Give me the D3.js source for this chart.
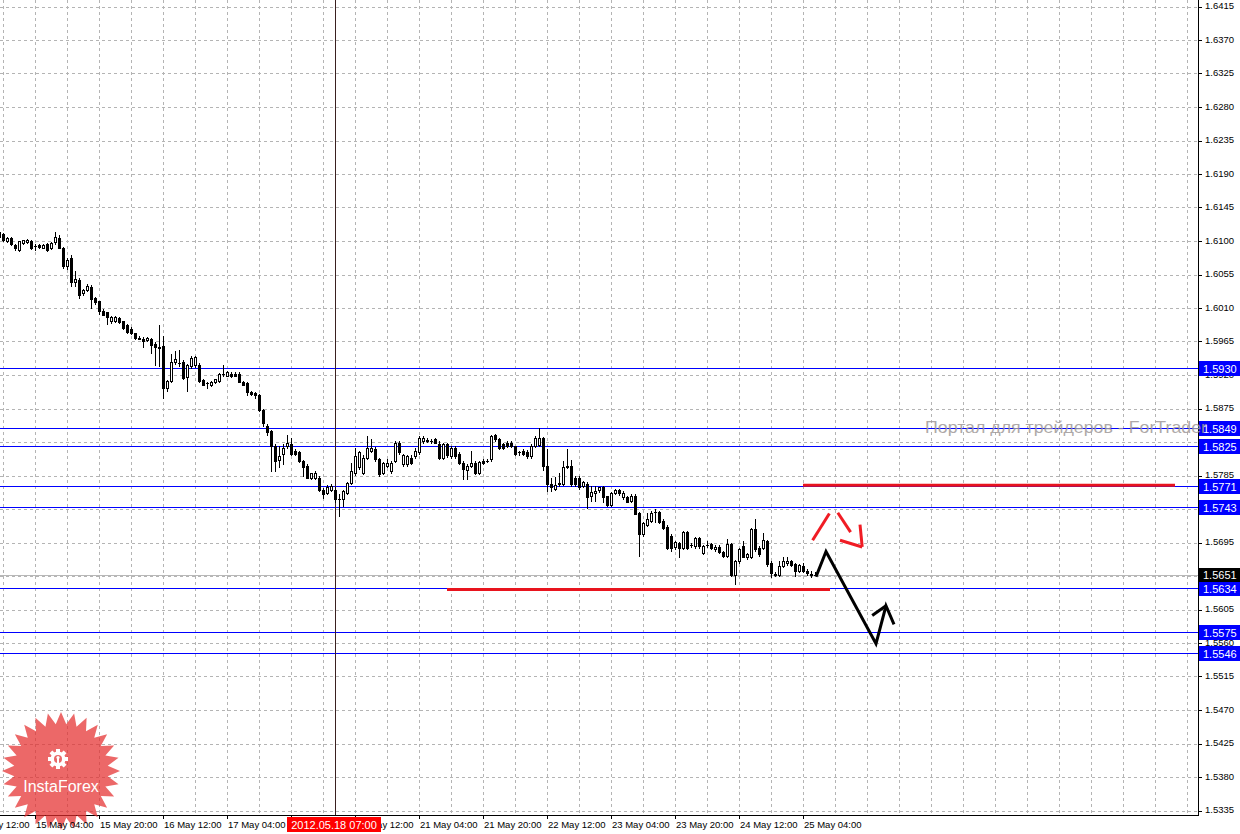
<!DOCTYPE html>
<html><head><meta charset="utf-8">
<script src="https://cdn.jsdelivr.net/npm/d3@7"></script>
<style>body{margin:0;background:#fff;overflow:hidden}svg{display:block}</style>
</head><body>
<svg id="c" width="1240" height="834"></svg>
<script>
// ---------- DATA ----------
const opens = [
1.6112,1.6109,1.6100,1.6104,1.6094,1.6088,1.6097,1.6098,1.6100,1.6093,
1.6094,1.6091,1.6096,1.6090,1.6098,1.6104,1.6091,1.6066,1.6077,1.6045,
1.6048,1.6030,1.6034,1.6038,1.6023,1.6019,1.6006,1.6004,1.5992,1.5992,
1.5997,1.5992,1.5987,1.5982,1.5976,1.5970,1.5969,1.5967,1.5968,1.5962,
1.5957,1.5959,1.5903,1.5912,1.5937,1.5936,1.5937,1.5917,1.5932,1.5933,
1.5934,1.5913,1.5909,1.5907,1.5910,1.5912,1.5921,1.5919,1.5922,1.5922,
1.5922,1.5911,1.5909,1.5897,1.5896,1.5893,1.5873,
1.5851,1.5845,1.5825,1.5806,1.5814,1.5825,1.5827,1.5818,1.5817,1.5805,
1.5798,1.5782,1.5782,1.5782,1.5766,1.5762,1.5766,1.5766,1.5754,1.5753,
1.5762,1.5775,1.5788,1.5796,1.5789,1.5809,1.5818,1.5820,1.5807,1.5789,
1.5798,1.5791,1.5805,1.5829,1.5800,1.5800,1.5809,1.5811,1.5816,1.5831,
1.5833,1.5832,1.5834,1.5827,1.5809,1.5827,1.5811,1.5822,1.5814,1.5802,
1.5793,1.5798,1.5802,1.5789,1.5805,1.5805,1.5807,1.5839,1.5834,1.5827,
1.5829,1.5829,1.5824,1.5816,1.5818,1.5817,
1.5811,1.5825,1.5826,1.5835,1.5798,1.5773,1.5767,1.5773,1.5774,1.5798,
1.5798,1.5782,1.5782,1.5771,1.5774,1.5757,1.5761,1.5765,1.5769,1.5757,
1.5746,1.5762,1.5765,1.5756,1.5756,1.5751,1.5758,1.5734,1.5706,1.5719,
1.5724,1.5736,1.5736,1.5724,1.5716,1.5704,1.5689,1.5694,1.5688,1.5709,
1.5692,1.5690,1.5701,1.5681,1.5691,1.5693,1.5686,1.5689,1.5682,1.5677,
1.5693,1.5651,1.5670,1.5690,1.5675,1.5676,1.5713,1.5688,1.5688,1.5697,
1.5668,1.5653,1.5652,1.5664,1.5667,1.5670,1.5666,1.5657,1.5663,1.5657,
1.5653,1.5652];
const highs = [
1.6113,1.6111,1.6105,1.6106,1.6096,1.6100,1.6102,1.6103,1.6102,1.6096,
1.6096,1.6096,1.6097,1.6098,1.6112,1.6108,1.6092,1.6077,1.6081,1.6060,
1.6050,1.6035,1.6042,1.6041,1.6025,1.6020,1.6008,1.6005,1.5999,1.5999,
1.5998,1.5993,1.5988,1.5984,1.5977,1.5972,1.5971,1.5971,1.5970,1.5964,
1.5987,1.5972,1.5913,1.5948,1.5952,1.5954,1.5940,1.5935,1.5945,1.5946,
1.5936,1.5914,1.5911,1.5912,1.5915,1.5923,1.5933,1.5925,1.5924,1.5924,
1.5924,1.5912,1.5910,1.5898,1.5897,1.5894,1.5875,
1.5854,1.5846,1.5827,1.5825,1.5827,1.5840,1.5836,1.5820,1.5818,1.5806,
1.5800,1.5789,1.5791,1.5784,1.5768,1.5772,1.5773,1.5770,1.5760,1.5765,
1.5776,1.5802,1.5822,1.5818,1.5812,1.5838,1.5834,1.5823,1.5808,1.5803,
1.5807,1.5804,1.5831,1.5831,1.5814,1.5813,1.5812,1.5822,1.5838,1.5838,
1.5836,1.5834,1.5836,1.5831,1.5829,1.5829,1.5824,1.5824,1.5816,1.5804,
1.5800,1.5818,1.5804,1.5805,1.5807,1.5807,1.5840,1.5841,1.5836,1.5829,
1.5832,1.5831,1.5825,1.5818,1.5820,1.5819,
1.5827,1.5838,1.5849,1.5837,1.5820,1.5782,1.5783,1.5789,1.5805,1.5820,
1.5806,1.5784,1.5784,1.5778,1.5776,1.5771,1.5771,1.5770,1.5771,1.5758,
1.5763,1.5767,1.5767,1.5764,1.5758,1.5760,1.5760,1.5736,1.5723,1.5735,
1.5737,1.5740,1.5737,1.5726,1.5718,1.5706,1.5697,1.5696,1.5711,1.5711,
1.5694,1.5703,1.5702,1.5692,1.5697,1.5695,1.5691,1.5691,1.5684,1.5700,
1.5695,1.5672,1.5688,1.5697,1.5681,1.5715,1.5727,1.5690,1.5708,1.5699,
1.5670,1.5656,1.5670,1.5675,1.5675,1.5672,1.5668,1.5666,1.5668,1.5659,
1.5657,1.5655];
const lows = [
1.6104,1.6100,1.6099,1.6094,1.6088,1.6087,1.6096,1.6097,1.6089,1.6088,
1.6091,1.6090,1.6087,1.6089,1.6096,1.6090,1.6064,1.6063,1.6040,1.6040,
1.6024,1.6027,1.6033,1.6010,1.6016,1.6002,1.6000,1.5988,1.5990,1.5991,
1.5990,1.5982,1.5977,1.5975,1.5969,1.5968,1.5957,1.5965,1.5949,1.5933,
1.5932,1.5889,1.5898,1.5911,1.5935,1.5932,1.5914,1.5898,1.5930,1.5931,
1.5910,1.5906,1.5903,1.5905,1.5909,1.5911,1.5919,1.5918,1.5917,1.5918,
1.5910,1.5906,1.5893,1.5893,1.5889,1.5872,1.5852,
1.5840,1.5791,1.5791,1.5796,1.5800,1.5822,1.5812,1.5812,1.5803,1.5784,
1.5781,1.5780,1.5780,1.5764,1.5755,1.5760,1.5764,1.5750,1.5731,1.5744,
1.5760,1.5773,1.5786,1.5794,1.5787,1.5807,1.5816,1.5805,1.5784,1.5787,
1.5796,1.5789,1.5803,1.5814,1.5798,1.5798,1.5801,1.5809,1.5814,1.5829,
1.5830,1.5829,1.5828,1.5807,1.5807,1.5810,1.5809,1.5809,1.5800,1.5780,
1.5780,1.5796,1.5787,1.5787,1.5801,1.5803,1.5805,1.5832,1.5821,1.5821,
1.5823,1.5823,1.5812,1.5813,1.5812,1.5809,
1.5809,1.5823,1.5824,1.5793,1.5764,1.5764,1.5765,1.5771,1.5772,1.5795,
1.5771,1.5771,1.5767,1.5769,1.5742,1.5751,1.5751,1.5763,1.5749,1.5744,
1.5744,1.5760,1.5759,1.5754,1.5749,1.5749,1.5733,1.5677,1.5704,1.5717,
1.5722,1.5722,1.5721,1.5713,1.5686,1.5684,1.5686,1.5676,1.5686,1.5686,
1.5689,1.5688,1.5688,1.5679,1.5689,1.5686,1.5684,1.5681,1.5676,1.5675,
1.5650,1.5639,1.5668,1.5675,1.5673,1.5674,1.5684,1.5677,1.5686,1.5664,
1.5648,1.5650,1.5650,1.5662,1.5665,1.5663,1.5650,1.5655,1.5655,1.5652,
1.5648,1.5651];
const closes = [
1.6106,1.6101,1.6104,1.6096,1.6090,1.6100,1.6101,1.6101,1.6091,1.6093,
1.6092,1.6095,1.6088,1.6097,1.6106,1.6091,1.6066,1.6075,1.6045,1.6049,
1.6027,1.6034,1.6040,1.6022,1.6018,1.6006,1.6001,1.5998,1.5998,1.5998,
1.5991,1.5983,1.5978,1.5976,1.5970,1.5969,1.5965,1.5970,1.5960,1.5957,
1.5956,1.5903,1.5912,1.5937,1.5941,1.5936,1.5916,1.5933,1.5943,1.5944,
1.5912,1.5907,1.5909,1.5911,1.5914,1.5922,1.5921,1.5924,1.5918,1.5919,
1.5911,1.5907,1.5897,1.5895,1.5893,1.5873,1.5855,
1.5844,1.5825,1.5805,1.5811,1.5822,1.5829,1.5814,1.5814,1.5805,1.5796,
1.5782,1.5788,1.5788,1.5766,1.5760,1.5770,1.5771,1.5753,1.5753,1.5764,
1.5775,1.5791,1.5811,1.5816,1.5809,1.5822,1.5822,1.5807,1.5787,1.5802,
1.5802,1.5802,1.5829,1.5816,1.5812,1.5811,1.5802,1.5818,1.5836,1.5836,
1.5832,1.5832,1.5829,1.5809,1.5827,1.5812,1.5822,1.5811,1.5802,1.5794,
1.5798,1.5802,1.5789,1.5803,1.5802,1.5805,1.5838,1.5834,1.5822,1.5822,
1.5825,1.5825,1.5814,1.5816,1.5814,1.5811,
1.5825,1.5836,1.5836,1.5798,1.5773,1.5769,1.5772,1.5775,1.5797,1.5797,
1.5773,1.5773,1.5769,1.5776,1.5756,1.5763,1.5764,1.5769,1.5756,1.5746,
1.5761,1.5765,1.5761,1.5762,1.5750,1.5758,1.5733,1.5706,1.5721,1.5726,
1.5735,1.5736,1.5723,1.5715,1.5688,1.5688,1.5696,1.5688,1.5709,1.5688,
1.5692,1.5701,1.5690,1.5690,1.5691,1.5687,1.5689,1.5682,1.5677,1.5693,
1.5651,1.5670,1.5686,1.5676,1.5679,1.5713,1.5686,1.5679,1.5699,1.5666,
1.5654,1.5652,1.5664,1.5670,1.5670,1.5665,1.5657,1.5665,1.5657,1.5654,
1.5652,1.5651];

const priceTicks = ["1.5335","1.5380","1.5425","1.5470","1.5515","1.5560","1.5605","1.5650",
  "1.5695","1.5740","1.5785","1.5830","1.5875","1.5920","1.5965","1.6010","1.6055","1.6100",
  "1.6145","1.6190","1.6235","1.6280","1.6325","1.6370","1.6415"];
const timeTickBars = [-7, 9, 25, 41, 57, 73, 89, 105, 121, 137, 153, 169, 185, 201];
const timeTickLabels = ["14 May 12:00","15 May 04:00","15 May 20:00","16 May 12:00","17 May 04:00",
  "17 May 20:00","18 May 12:00","21 May 04:00","21 May 20:00","22 May 12:00","23 May 04:00",
  "23 May 20:00","24 May 12:00","25 May 04:00"];
const levelPrices = [1.5930, 1.5849, 1.5825, 1.5771, 1.5743, 1.5634, 1.5575, 1.5546];
const levelLabels = ["1.5930","1.5849","1.5825","1.5771","1.5743","1.5634","1.5575","1.5546"];
const lastPrice = 1.5651, lastLabel = "1.5651";
const crossBar = 84, crossLabel = "2012.05.18 07:00";
// hand-drawn annotations: [bar, price]
const redLineUpper = [[201, 1.5772], [294, 1.5772]];
const redLineLower = [[112, 1.5632], [207.75, 1.5632]];
const redArrowUp = [[203.4, 1.5698], [207.6, 1.5734]];
const redArrowDown = [[209.7, 1.5735], [212.9, 1.5709]];
const redHeadA = [[210.25, 1.5698], [215.8, 1.5689]];
const redHeadB = [[215.25, 1.5719], [215.8, 1.5689]];
const blackPath = [[204.25, 1.5649], [206.75, 1.5683], [219.25, 1.5559], [221.75, 1.5610], [223.75, 1.5585]];
const blackHead = [[218.3, 1.5597], [221.75, 1.5610]];

// ---------- SCALES ----------
const W = 1240, H = 834, plotR = 1198, plotB = 815;
const x = d3.scaleLinear().domain([0, 300]).range([-1, 1199]);
const y = d3.scaleLinear().domain([1.5335, 1.6415]).range([810.5, 6.5]);
const svg = d3.select("#c");
const FONT = "'Liberation Sans', Arial, sans-serif";

svg.append("defs").append("clipPath").attr("id", "plot")
  .append("rect").attr("x", 0).attr("y", 0).attr("width", plotR).attr("height", plotB);

const plot = svg.append("g").attr("clip-path", "url(#plot)");

// grid
const gridBars = d3.range(1, 300, 8);
plot.append("g").selectAll("line").data(gridBars).join("line")
  .attr("x1", d => Math.round(x(d)) + 0.5).attr("x2", d => Math.round(x(d)) + 0.5)
  .attr("y1", 0).attr("y2", plotB)
  .attr("stroke", "#b4b4b4").attr("stroke-dasharray", "3,3");
plot.append("g").selectAll("line").data(priceTicks).join("line")
  .attr("x1", 0).attr("x2", plotR)
  .attr("y1", d => Math.round(y(+d)) + 0.5).attr("y2", d => Math.round(y(+d)) + 0.5)
  .attr("stroke", "#b4b4b4").attr("stroke-dasharray", "3,3");

// last price line
plot.append("line").attr("x1", 0).attr("x2", plotR)
  .attr("y1", Math.round(y(lastPrice)) + 0.5).attr("y2", Math.round(y(lastPrice)) + 0.5)
  .attr("stroke", "#b8b8b8");

// level lines
plot.append("g").selectAll("line").data(levelPrices).join("line")
  .attr("x1", 0).attr("x2", plotR)
  .attr("y1", d => Math.round(y(d)) + 0.5).attr("y2", d => Math.round(y(d)) + 0.5)
  .attr("stroke", "#0000ff");

// crosshair vertical
plot.append("line").attr("x1", Math.round(x(crossBar)) + 0.5).attr("x2", Math.round(x(crossBar)) + 0.5)
  .attr("y1", 0).attr("y2", plotB).attr("stroke", "#3a2020");

// candles
const bars = d3.range(opens.length);
const cg = plot.append("g");
cg.selectAll("line.w").data(bars).join("line").attr("class", "w")
  .attr("x1", i => Math.round(x(i)) + 0.5).attr("x2", i => Math.round(x(i)) + 0.5)
  .attr("y1", i => Math.round(y(highs[i]))).attr("y2", i => Math.round(y(lows[i])) + 1)
  .attr("stroke", "#000");
cg.selectAll("rect.b").data(bars).join("rect").attr("class", "b")
  .each(function(i) {
    const cx = Math.round(x(i));
    const top = Math.round(y(Math.max(opens[i], closes[i])));
    const bot = Math.round(y(Math.min(opens[i], closes[i])));
    const el = d3.select(this);
    if (closes[i] < opens[i]) {
      el.attr("x", cx - 1).attr("y", top).attr("width", 3).attr("height", Math.max(1, bot - top + 1))
        .attr("fill", "#000");
    } else if (closes[i] > opens[i]) {
      el.attr("x", cx - 0.5).attr("y", top + 0.5).attr("width", 2).attr("height", Math.max(1, bot - top))
        .attr("fill", "#fff").attr("stroke", "#000");
    } else {
      el.attr("x", cx - 1).attr("y", top).attr("width", 3).attr("height", 1).attr("fill", "#000");
    }
  });

// annotations
const line = d3.line().x(d => x(d[0])).y(d => y(d[1]));
function drawPath(pts, color, w) {
  plot.append("path").attr("d", line(pts)).attr("fill", "none")
    .attr("stroke", color).attr("stroke-width", w).attr("stroke-linejoin", "miter");
}
drawPath(redLineUpper, "#e8141e", 3);
drawPath(redLineLower, "#e8141e", 3);
[redArrowUp, redArrowDown, redHeadA, redHeadB].forEach(p => drawPath(p, "#f01c24", 3));
drawPath(blackPath, "#000", 3);
drawPath(blackHead, "#000", 3);

// axes
svg.append("line").attr("x1", plotR + 0.5).attr("x2", plotR + 0.5).attr("y1", 0).attr("y2", plotB + 1)
  .attr("stroke", "#000");
svg.append("line").attr("x1", 0).attr("x2", plotR + 1).attr("y1", plotB + 0.5).attr("y2", plotB + 0.5)
  .attr("stroke", "#000");

// price axis ticks & labels
const pa = svg.append("g");
pa.selectAll("line").data(priceTicks).join("line")
  .attr("x1", plotR + 1).attr("x2", plotR + 4)
  .attr("y1", d => Math.round(y(+d)) + 0.5).attr("y2", d => Math.round(y(+d)) + 0.5)
  .attr("stroke", "#000");
pa.selectAll("text").data(priceTicks).join("text")
  .attr("x", 1205).attr("y", d => y(+d) + 2.5)
  .attr("font-family", FONT).attr("font-size", "9.5px").attr("fill", "#000").text(d => d);

// time axis ticks & labels
const ta = svg.append("g");
ta.selectAll("line").data(timeTickBars).join("line")
  .attr("x1", d => Math.round(x(d)) + 0.5).attr("x2", d => Math.round(x(d)) + 0.5)
  .attr("y1", plotB).attr("y2", plotB + 4).attr("stroke", "#000");

// logo (starburst) - drawn under time labels
const logo = svg.append("g").attr("transform", "translate(61,771)");
const N = 28, rO = 59, rI = 47;
const star = d3.range(2 * N).map(j => {
  const a = -Math.PI / 2 + j * Math.PI / N;
  const r = j % 2 === 0 ? rO : rI;
  return [r * Math.cos(a), r * Math.sin(a)];
});
logo.append("path").attr("d", d3.line()(star) + "Z").attr("fill", "#e42e2e").attr("opacity", 0.72);
const gear = logo.append("g").attr("transform", "translate(-3,-12)");
d3.range(8).forEach(j => {
  gear.append("rect").attr("x", -2).attr("y", -10).attr("width", 4).attr("height", 5)
    .attr("fill", "#fff").attr("transform", `rotate(${j * 45})`);
});
gear.append("circle").attr("r", 7.5).attr("fill", "#fff");
gear.append("circle").attr("r", 4).attr("fill", "#e86a6a");
gear.append("circle").attr("cy", -1.5).attr("r", 1.6).attr("fill", "#fff");
gear.append("rect").attr("x", -1).attr("y", -1).attr("width", 2).attr("height", 9).attr("fill", "#fff");
logo.append("text").attr("x", 0).attr("y", 21).attr("text-anchor", "middle")
  .attr("font-family", FONT).attr("font-size", "16px").attr("fill", "#fff").text("InstaForex");

ta.raise();
ta.selectAll("text").data(timeTickBars).join("text")
  .attr("x", d => Math.round(x(d)) + 1).attr("y", 828)
  .attr("font-family", FONT).attr("font-size", "9.5px").attr("fill", "#000")
  .text((d, i) => timeTickLabels[i]);

// crosshair time label
const cl = svg.append("g");
cl.append("rect").attr("x", 287).attr("y", 817).attr("width", 94).attr("height", 15).attr("fill", "#ff0000");
cl.append("text").attr("x", 334).attr("y", 828.5).attr("text-anchor", "middle")
  .attr("font-family", FONT).attr("font-size", "11px").attr("fill", "#fff").text(crossLabel);

// level boxes on price axis
const lb = svg.append("g");
levelPrices.forEach((p, i) => {
  const yy = Math.round(y(p));
  lb.append("rect").attr("x", 1199).attr("y", yy - 7).attr("width", 41).attr("height", 15).attr("fill", "#0000ff");
  lb.append("text").attr("x", 1203).attr("y", yy + 4.5)
    .attr("font-family", FONT).attr("font-size", "11px").attr("fill", "#fff").text(levelLabels[i]);
});
{
  const yy = Math.round(y(lastPrice));
  lb.append("rect").attr("x", 1199).attr("y", yy - 7).attr("width", 41).attr("height", 14).attr("fill", "#000");
  lb.append("text").attr("x", 1203).attr("y", yy + 4)
    .attr("font-family", FONT).attr("font-size", "11px").attr("fill", "#fff").text(lastLabel);
}

// watermark
svg.append("text").attr("x", 925).attr("y", 433)
  .attr("font-family", FONT).attr("font-size", "17px").attr("fill", "#a09a9a").attr("opacity", 0.85)
  .attr("textLength", 282).attr("lengthAdjust", "spacingAndGlyphs")
  .text("Портал для трейдеров - ForTrader");
</script>
</body></html>
